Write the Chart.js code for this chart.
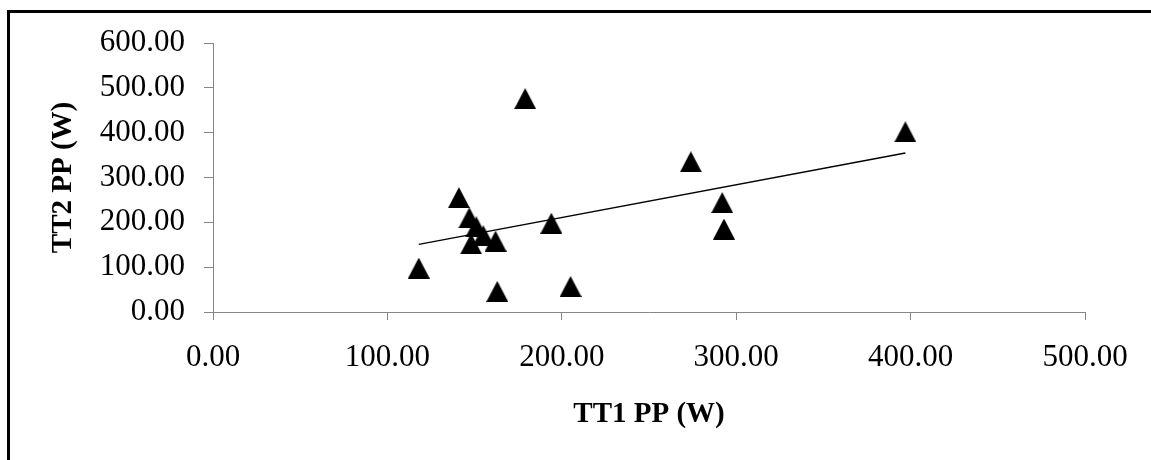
<!DOCTYPE html>
<html>
<head>
<meta charset="utf-8">
<script src="https://cdn.jsdelivr.net/npm/chart.js@4.4.1/dist/chart.umd.min.js"></script>
<style>
	html, body { margin: 0; padding: 0; background: #fff; overflow: hidden; }
	#frame { position: absolute; left: 7px; top: 10px; width: 1300px; height: 600px; border-left: 3px solid #000; border-top: 3px solid #000; }
	#myChart { position: absolute; left: 0; top: 0; }
</style>
</head>
<body>
<div id="frame"></div>
<canvas id="myChart" width="1151" height="460"></canvas>
<script>
const tt1 = [118, 141, 147, 151, 155, 148, 162, 163, 179, 194, 205, 274, 292, 293, 397];
const tt2 = [98, 255, 210, 190, 170, 152, 158, 46, 476, 198, 57, 335, 244, 185, 402];
const xTicks = [0, 100, 200, 300, 400, 500];
const yTicks = [0, 100, 200, 300, 400, 500, 600];

// linear trendline (least squares), drawn from min x to max x like Excel
const n = tt1.length;
const mx = tt1.reduce((a, b) => a + b, 0) / n;
const my = tt2.reduce((a, b) => a + b, 0) / n;
let sxy = 0, sxx = 0;
tt1.forEach((x, i) => {
	sxy += (x - mx) * (tt2[i] - my);
	sxx += (x - mx) * (x - mx);
});
const slope = sxy / sxx;
const icept = my - slope * mx;
const xMin = Math.min(...tt1);
const xMax = Math.max(...tt1);

// filled triangle marker, centred on its bounding box
const marker = document.createElement('canvas');
marker.width = 22;
marker.height = 21;
const mctx = marker.getContext('2d');
mctx.fillStyle = '#000';
mctx.beginPath();
mctx.moveTo(11, 0);
mctx.lineTo(22, 21);
mctx.lineTo(0, 21);
mctx.closePath();
mctx.fill();

Chart.defaults.font.family = '"Liberation Serif", "Times New Roman", serif';
Chart.defaults.color = '#000';

const axisGray = '#868686';
const fmt = v => Number(v).toFixed(2);

const ctx = document.getElementById('myChart').getContext('2d');
let myChart = new Chart(ctx, {
	type: 'scatter',
	data: {
		datasets: [
			{
				label: 'TT2 PP',
				data: tt1.map((x, i) => ({ x: x, y: tt2[i] })),
				pointStyle: marker,
				pointRadius: 11,
				order: 2
			},
			{
				type: 'line',
				label: 'Trend',
				data: [{ x: xMin, y: icept + slope * xMin }, { x: xMax, y: icept + slope * xMax }],
				borderColor: '#000',
				borderWidth: 1.3,
				pointRadius: 0,
				fill: false,
				order: 1
			}
		]
	},
	options: {
		responsive: false,
		animation: false,
		devicePixelRatio: 1,
		layout: { padding: { top: 43, right: 66, left: 0, bottom: 0 } },
		plugins: { legend: { display: false }, tooltip: { enabled: false } },
		scales: {
			x: {
				type: 'linear',
				min: xTicks[0],
				max: xTicks[xTicks.length - 1],
				afterBuildTicks: s => { s.ticks = xTicks.map(v => ({ value: v })); },
				afterFit: s => { s.height = 148; },
				grid: { drawOnChartArea: false, drawTicks: true, tickLength: 8, color: axisGray },
				border: { display: true, color: axisGray, width: 1 },
				ticks: { font: { size: 31 }, padding: 19, callback: fmt, maxRotation: 0 },
				title: { display: true, text: 'TT1 PP (W)', font: { size: 29, weight: 'bold' }, padding: { top: 0, bottom: 28 } }
			},
			y: {
				type: 'linear',
				min: yTicks[0],
				max: yTicks[yTicks.length - 1],
				afterBuildTicks: s => { s.ticks = yTicks.map(v => ({ value: v })); },
				afterFit: s => { s.width = 213; },
				grid: { drawOnChartArea: false, drawTicks: true, tickLength: 9, color: axisGray },
				border: { display: true, color: axisGray, width: 1 },
				ticks: { font: { size: 31 }, padding: 19, callback: fmt },
				title: { display: true, text: 'TT2 PP (W)', font: { size: 29, weight: 'bold' }, padding: { top: 46, bottom: 0 } }
			}
		}
	}
});
</script>
</body>
</html>
